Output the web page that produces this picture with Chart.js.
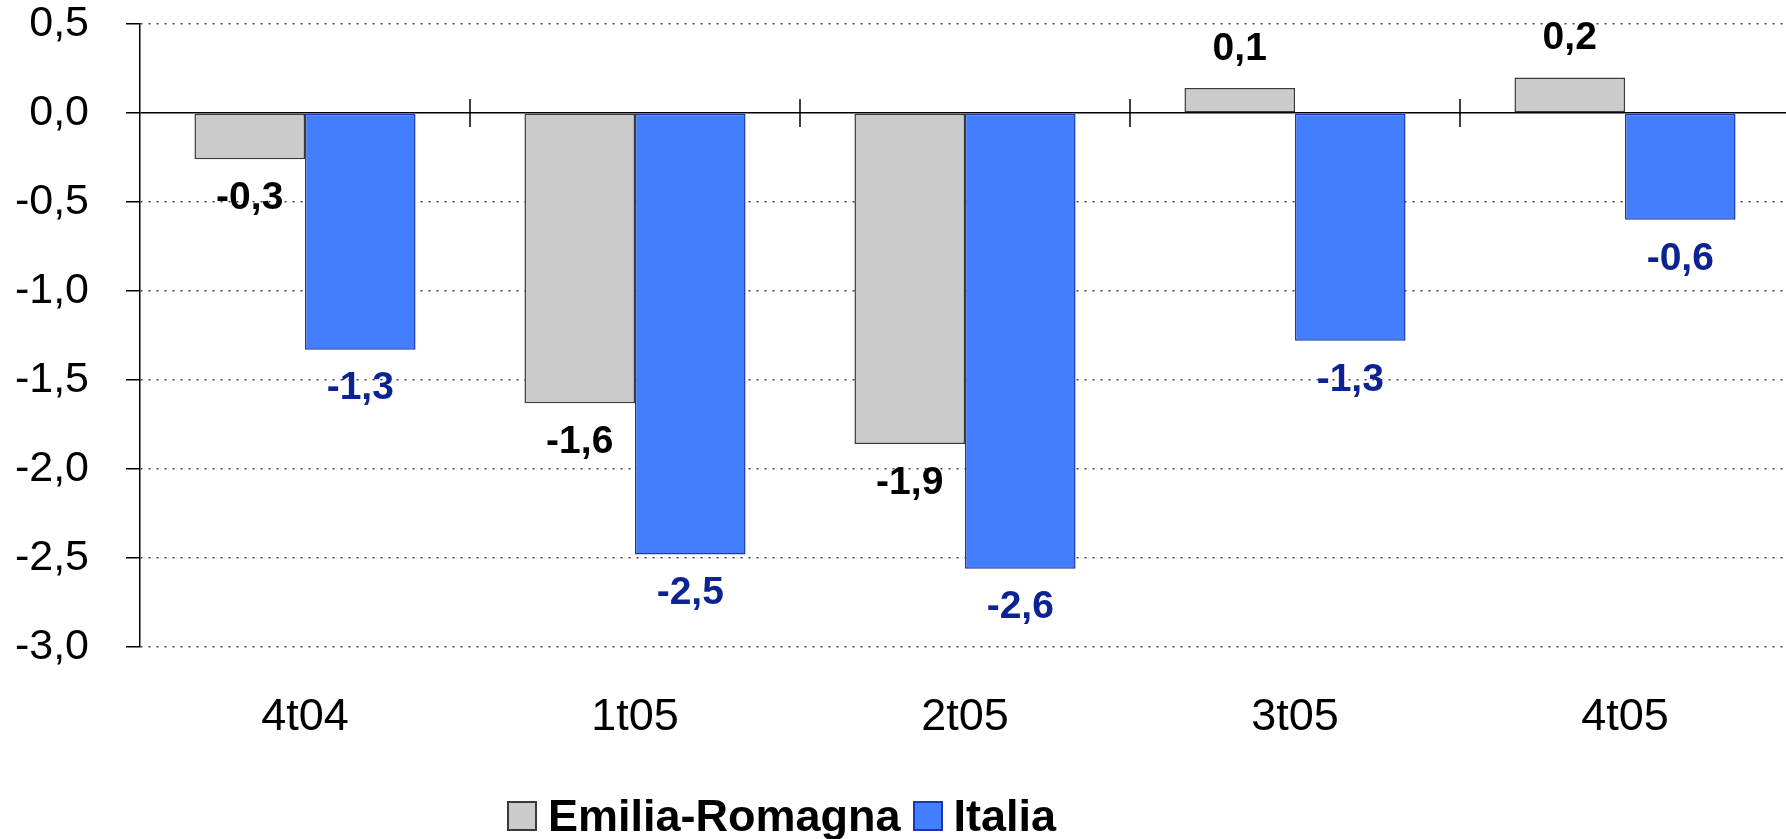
<!DOCTYPE html>
<html>
<head>
<meta charset="utf-8">
<script src="https://cdn.jsdelivr.net/npm/chart.js@4.4.1/dist/chart.umd.min.js"></script>
<style>
  html, body { margin: 0; padding: 0; background: #fff; overflow: hidden; }
  #wrap { position: relative; width: 1790px; height: 839px; }
  #legend { position: absolute; left: 507px; top: 790px; height: 52px; display: flex; align-items: center;
            font: bold 45px 'Liberation Sans', Arial, sans-serif; color: #000; }
  #legend .it { display: flex; align-items: center; margin-right: 12px; }
  #legend .sw { width: 30px; height: 30px; box-sizing: border-box; border: 2px solid; margin-right: 11px; }
</style>
</head>
<body>
<div id="wrap"><canvas id="chart"></canvas><div id="legend"></div></div>
<script>
// data
const CATEGORIES = ['4t04', '1t05', '2t05', '3t05', '4t05'];
const EMILIA = [-0.26, -1.63, -1.86, 0.14, 0.2];
const ITALIA = [-1.33, -2.48, -2.56, -1.28, -0.6];
const SERIES = ['Emilia-Romagna', 'Italia'];
const Y_MIN = -3, Y_MAX = 0.5, Y_STEP = 0.5;

const FONT = "'Liberation Sans', Arial, sans-serif";
const GRAY = '#cbcbcb', GRAY_LINE = '#3a3a3a', GRAY_TXT = '#000';
const BLUE = '#437eff', BLUE_LINE = '#1a36b0', BLUE_TXT = '#0c2393';
const fmt = (v) => v.toFixed(1).replace('.', ',');

// value labels + category ticks on the zero line
const extras = {
  id: 'extras',
  afterDatasetsDraw(chart) {
    const { ctx, scales: { x, y } } = chart;
    const y0 = y.getPixelForValue(0);
    ctx.save();
    ctx.strokeStyle = '#000';
    ctx.lineWidth = 1.5;
    for (let i = 1; i < CATEGORIES.length; i++) {
      const px = (x.getPixelForTick(i - 1) + x.getPixelForTick(i)) / 2;
      ctx.beginPath(); ctx.moveTo(px, y0 - 14); ctx.lineTo(px, y0 + 14); ctx.stroke();
    }
    ctx.font = 'bold 39px ' + FONT;
    ctx.textAlign = 'center';
    ctx.textBaseline = 'middle';
    chart.data.datasets.forEach((ds, i) => {
      ctx.fillStyle = ds.labelColor;
      chart.getDatasetMeta(i).data.forEach((bar, j) => {
        const v = ds.data[j];
        ctx.fillText(fmt(v), bar.x, bar.y + (v < 0 ? 39 : -39));
      });
    });
    ctx.restore();
  },
};

const chart = new Chart(document.getElementById('chart'), {
  type: 'bar',
  data: {
    labels: CATEGORIES,
    datasets: [
      { label: SERIES[0], data: EMILIA, backgroundColor: GRAY, borderColor: GRAY_LINE,
        borderWidth: 1.5, borderSkipped: false, labelColor: GRAY_TXT },
      { label: SERIES[1], data: ITALIA, backgroundColor: BLUE, borderColor: BLUE_LINE,
        borderWidth: 1.5, borderSkipped: false, labelColor: BLUE_TXT },
    ],
  },
  options: {
    responsive: true, maintainAspectRatio: false, animation: false,
    layout: { padding: { top: 24, left: 0, right: 0, bottom: 0 } },
    datasets: { bar: { categoryPercentage: 0.67, barPercentage: 1 } },
    plugins: { legend: { display: false }, tooltip: { enabled: false } },
    scales: {
      x: {
        grid: { display: false, drawTicks: false },
        border: { display: false },
        ticks: { color: '#000', padding: 44, font: { family: FONT, size: 45 } },
        afterFit: (s) => { s.height = 192; },
      },
      y: {
        min: Y_MIN, max: Y_MAX,
        grid: {
          color: (c) => (c.tick && c.tick.value === 0 ? '#000' : '#444'),
          lineWidth: 1.5, tickLength: 14, tickColor: '#000', tickWidth: 1.5,
        },
        border: { display: true, color: '#000', width: 1.5,
          dash: (c) => (c.tick && c.tick.value === 0 ? [] : [2, 6]) },
        ticks: { stepSize: Y_STEP, color: '#000', padding: 37,
          font: { family: FONT, size: 43, lineHeight: 1 }, callback: (v) => fmt(v) },
        // fixed axis width; drop the label padding from the top/bottom layout
        afterFit: (s) => { s.width = 140; s.paddingTop = 0; s.paddingBottom = 0; },
      },
    },
  },
  plugins: [extras],
});

// legend as html
const leg = document.getElementById('legend');
chart.data.datasets.forEach((ds) => {
  const it = document.createElement('div');
  it.className = 'it';
  const sw = document.createElement('span');
  sw.className = 'sw';
  sw.style.background = ds.backgroundColor;
  sw.style.borderColor = ds.borderColor;
  it.appendChild(sw);
  it.appendChild(document.createTextNode(ds.label));
  leg.appendChild(it);
});
</script>
</body>
</html>
